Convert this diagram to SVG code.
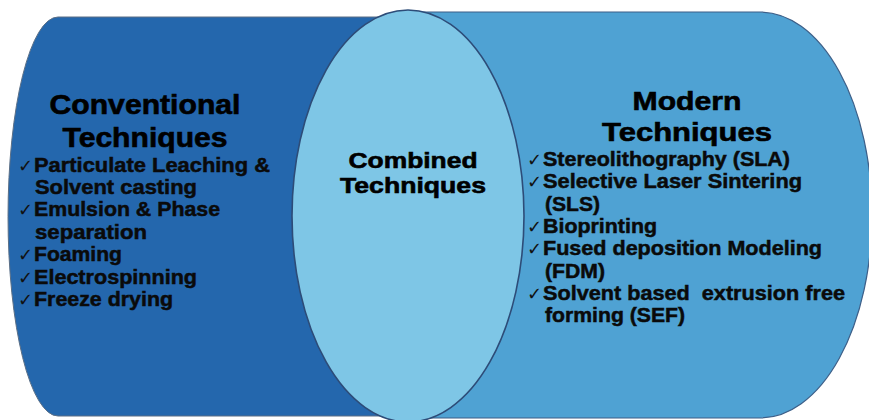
<svg xmlns="http://www.w3.org/2000/svg" width="869" height="420" viewBox="0 0 869 420">
  <style>
    .head { font-family: "Liberation Sans", Arial, sans-serif; font-weight: bold; fill: #000; stroke: #000; stroke-width: 0.6; text-anchor: middle; }
    .item { font-family: "Liberation Sans", Arial, sans-serif; font-weight: bold; font-size: 20.5px; fill: #0a0a0a; stroke: #0a0a0a; stroke-width: 0.5; }
    .tick { font-family: "DejaVu Sans", sans-serif; font-size: 18px; fill: #111; }
  </style>
  <rect width="869" height="420" fill="#ffffff"/>

  <!-- Conventional techniques: cylinder body, rounded left end -->
  <g id="conventional">
    <path d="M 410 17 L 58 17 A 50 199.5 0 0 0 58 416 L 410 416 Z" fill="#2467ad" stroke="#5b6f86" stroke-width="1"/>
    <text class="head" font-size="27" x="145" y="114" textLength="191" lengthAdjust="spacingAndGlyphs">Conventional</text>
    <text class="head" font-size="27" x="145" y="147" textLength="165" lengthAdjust="spacingAndGlyphs">Techniques</text>
    <text class="tick" x="18" y="171.5">✓</text>
    <text class="item" x="34" y="171.5" textLength="236" lengthAdjust="spacingAndGlyphs">Particulate Leaching &amp;</text>
    <text class="item" x="35" y="193.5" textLength="162" lengthAdjust="spacingAndGlyphs">Solvent casting</text>
    <text class="tick" x="18" y="216">✓</text>
    <text class="item" x="34" y="216" textLength="186" lengthAdjust="spacingAndGlyphs">Emulsion &amp; Phase</text>
    <text class="item" x="35" y="238.5" textLength="112" lengthAdjust="spacingAndGlyphs">separation</text>
    <text class="tick" x="18" y="261">✓</text>
    <text class="item" x="34" y="261" textLength="88" lengthAdjust="spacingAndGlyphs">Foaming</text>
    <text class="tick" x="18" y="283.5">✓</text>
    <text class="item" x="34" y="283.5" textLength="163" lengthAdjust="spacingAndGlyphs">Electrospinning</text>
    <text class="tick" x="18" y="306">✓</text>
    <text class="item" x="34" y="306" textLength="139" lengthAdjust="spacingAndGlyphs">Freeze drying</text>
  </g>

  <!-- Modern techniques: cylinder body, rounded right end -->
  <g id="modern">
    <path d="M 406 12 L 760 12 A 112 203 0 0 1 760 418 L 406 418 Z" fill="#4fa2d3" stroke="#3d5f88" stroke-width="1.2"/>
    <text class="head" font-size="26" x="687" y="110" textLength="109" lengthAdjust="spacingAndGlyphs">Modern</text>
    <text class="head" font-size="26" x="687" y="141" textLength="170" lengthAdjust="spacingAndGlyphs">Techniques</text>
    <text class="tick" x="527" y="166">✓</text>
    <text class="item" x="543" y="166" textLength="247" lengthAdjust="spacingAndGlyphs">Stereolithography (SLA)</text>
    <text class="tick" x="527" y="188">✓</text>
    <text class="item" x="543" y="188" textLength="259" lengthAdjust="spacingAndGlyphs">Selective Laser Sintering</text>
    <text class="item" x="545" y="210.5" textLength="55" lengthAdjust="spacingAndGlyphs">(SLS)</text>
    <text class="tick" x="527" y="233">✓</text>
    <text class="item" x="543" y="233" textLength="114" lengthAdjust="spacingAndGlyphs">Bioprinting</text>
    <text class="tick" x="527" y="255">✓</text>
    <text class="item" x="543" y="255" textLength="279" lengthAdjust="spacingAndGlyphs">Fused deposition Modeling</text>
    <text class="item" x="545" y="277.5" textLength="60" lengthAdjust="spacingAndGlyphs">(FDM)</text>
    <text class="tick" x="527" y="300">✓</text>
    <text class="item" x="543" y="300" textLength="302" lengthAdjust="spacingAndGlyphs" style="white-space:pre">Solvent based  extrusion free</text>
    <text class="item" x="545" y="322" textLength="140" lengthAdjust="spacingAndGlyphs">forming (SEF)</text>
  </g>

  <!-- Combined techniques: overlapping ellipse -->
  <g id="combined">
    <ellipse cx="408" cy="216" rx="116" ry="206" fill="#7ec6e6" stroke="#2d4c78" stroke-width="1.6"/>
    <text class="head" font-size="22.5" x="413" y="168" textLength="129" lengthAdjust="spacingAndGlyphs">Combined</text>
    <text class="head" font-size="22.5" x="413" y="193" textLength="146" lengthAdjust="spacingAndGlyphs">Techniques</text>
  </g>

  <g id="connectors"/>
</svg>
